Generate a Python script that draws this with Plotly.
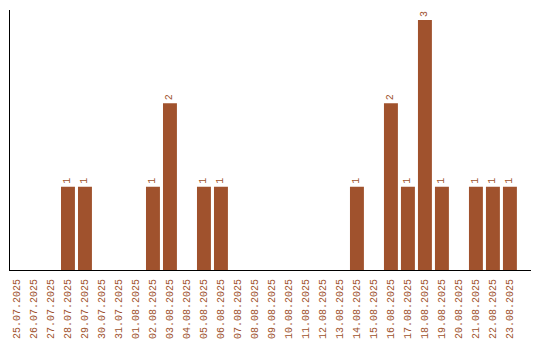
import plotly.graph_objects as go

dates = ["25.07.2025","26.07.2025","27.07.2025","28.07.2025","29.07.2025","30.07.2025",
         "31.07.2025","01.08.2025","02.08.2025","03.08.2025","04.08.2025","05.08.2025",
         "06.08.2025","07.08.2025","08.08.2025","09.08.2025","10.08.2025","11.08.2025",
         "12.08.2025","13.08.2025","14.08.2025","15.08.2025","16.08.2025","17.08.2025",
         "18.08.2025","19.08.2025","20.08.2025","21.08.2025","22.08.2025","23.08.2025"]
counts = [0,0,0,1,1,0,0,0,1,2,0,1,1,0,0,0,0,0,0,0,1,0,2,1,3,1,0,1,1,1]

color = "#A0522D"
font_family = "Liberation Mono"
labels = [str(v) if v else "" for v in counts]

fig = go.Figure(go.Bar(
    x=list(range(len(dates))), y=counts, marker_color=color, marker_line_width=0,
    text=labels, textposition="outside", textangle=-90,
    textfont=dict(family=font_family, size=10, color=color),
    cliponaxis=False,
))
fig.update_layout(
    width=540, height=340, margin=dict(l=10, r=9, t=10, b=70, autoexpand=False),
    paper_bgcolor="white", plot_bgcolor="white", showlegend=False, bargap=0.18,
    font=dict(family=font_family, size=10, color=color),
)
fig.update_xaxes(
    tickmode="array", tickvals=list(range(len(dates))), ticktext=dates, tickangle=-90,
    range=[-0.41, 30.24], showline=True, linecolor="black", linewidth=1,
    showgrid=False, zeroline=False, ticks="outside", ticklen=4, tickcolor="white",
    automargin=False,
    tickfont=dict(family=font_family, size=10, color=color),
)
fig.update_yaxes(
    range=[0, 3.12], showline=True, linecolor="black", linewidth=1,
    showgrid=False, zeroline=False, showticklabels=False, ticks="",
)
fig.write_html("out.html")
